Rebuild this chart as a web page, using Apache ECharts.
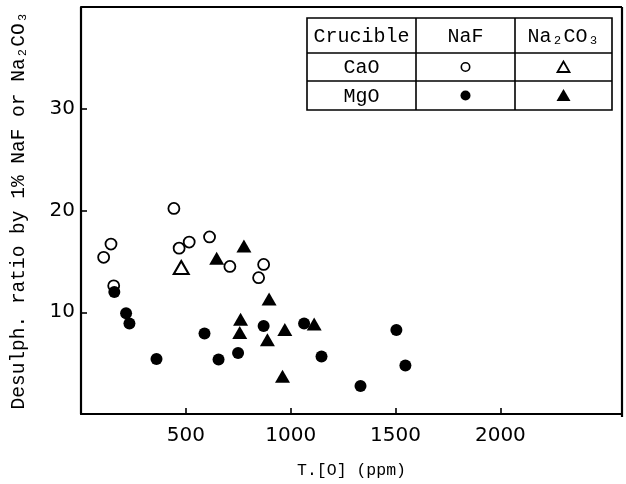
<!DOCTYPE html>
<html>
<head>
<meta charset="utf-8">
<script src="https://cdn.jsdelivr.net/npm/echarts@6/dist/echarts.min.js"></script>
<style>
html,body{margin:0;padding:0;background:#fff;}
#chart{width:626px;height:484px;}
</style>
</head>
<body>
<div id="chart"></div>
<script>
// CaO crucible, NaF (open circles)
var caoNaF = [[108,15.4],[143,16.7],[156,12.6],[443,20.2],[468,16.3],[516,16.9],[613,17.4],[710,14.5],[847,13.4],[871,14.7]];
// CaO crucible, Na2CO3 (open triangles)
var caoNa2CO3 = [[478,14.4]];
// MgO crucible, NaF (filled circles)
var mgoNaF = [[159,12.0],[215,9.9],[231,8.9],[360,5.4],[589,7.9],[656,5.35],[749,6.0],[871,8.65],[1064,8.9],[1147,5.65],[1333,2.75],[1504,8.26],[1547,4.76]];
// MgO crucible, Na2CO3 (filled triangles)
var mgoNa2CO3 = [[647,15.3],[777,16.5],[757,8.0],[761,9.3],[889,7.3],[897,11.3],[961,3.7],[972,8.3],[1112,8.85]];

var xTicks = [500,1000,1500,2000];
var yTicks = [10,20,30];
var xName = 'T.[O] (ppm)';
var yName = 'Desulph. ratio by 1% NaF or Na₂CO₃';
var tableHeader = ['Crucible','NaF','Na₂CO₃'];
var tableRows = ['CaO','MgO'];

var mono = '"Liberation Mono", "DejaVu Sans Mono", monospace';
var chart = echarts.init(document.getElementById('chart'), null, {renderer:'canvas'});

// table geometry (pixels)
var tL = 307, tR = 612, tT = 18, tB = 110;
var c1 = 416, c2 = 515;
var r1 = 53, r2 = 81;
var lineStyle = {stroke:'#000', lineWidth:1.6};
var tFont = '20px ' + mono;
function cellText(txt, x, y) {
  return {type:'text', x:x, y:y, style:{text:txt, font:tFont, fill:'#000', align:'center', verticalAlign:'middle'}, z:12};
}
var graphics = [
  {type:'rect', shape:{x:tL,y:tT,width:tR-tL,height:tB-tT}, style:{fill:'#fff',stroke:'#000',lineWidth:1.6}, z:10},
  {type:'line', shape:{x1:c1,y1:tT,x2:c1,y2:tB}, style:lineStyle, z:11},
  {type:'line', shape:{x1:c2,y1:tT,x2:c2,y2:tB}, style:lineStyle, z:11},
  {type:'line', shape:{x1:tL,y1:r1,x2:tR,y2:r1}, style:lineStyle, z:11},
  {type:'line', shape:{x1:tL,y1:r2,x2:tR,y2:r2}, style:lineStyle, z:11},
  cellText(tableHeader[0], (tL+c1)/2, (tT+r1)/2+1),
  cellText(tableHeader[1], (c1+c2)/2, (tT+r1)/2+1),
  cellText(tableHeader[2], (c2+tR)/2, (tT+r1)/2+1),
  cellText(tableRows[0], (tL+c1)/2, (r1+r2)/2+1),
  cellText(tableRows[1], (tL+c1)/2, (r2+tB)/2+1),
  {type:'circle', shape:{cx:(c1+c2)/2, cy:(r1+r2)/2, r:4.2}, style:{fill:'#fff',stroke:'#000',lineWidth:1.6}, z:12},
  {type:'polygon', shape:{points:[[(c2+tR)/2,(r1+r2)/2-5.5],[(c2+tR)/2-6,(r1+r2)/2+5],[(c2+tR)/2+6,(r1+r2)/2+5]]}, style:{fill:'#fff',stroke:'#000',lineWidth:1.8}, z:12},
  {type:'circle', shape:{cx:(c1+c2)/2, cy:(r2+tB)/2, r:5}, style:{fill:'#000'}, z:12},
  {type:'polygon', shape:{points:[[(c2+tR)/2,(r2+tB)/2-6.5],[(c2+tR)/2-7,(r2+tB)/2+5.5],[(c2+tR)/2+7,(r2+tB)/2+5.5]]}, style:{fill:'#000'}, z:12}
];

var option = {
  backgroundColor:'#fff',
  animation:false,
  grid:{left:81, right:4, top:7, bottom:67, containLabel:false},
  xAxis:{
    type:'value', min:0, max:2580, interval:500,
    name:xName, nameLocation:'middle', nameGap:48,
    nameTextStyle:{fontFamily:mono, fontSize:16.5, color:'#000'},
    axisLine:{show:true, onZero:false, lineStyle:{color:'#000', width:2.2}},
    axisTick:{show:true, inside:true, length:6, customValues:xTicks, lineStyle:{color:'#000', width:1.6}},
    axisLabel:{show:true, customValues:xTicks, margin:12, color:'#000', fontFamily:'"DejaVu Sans", sans-serif', fontSize:20,
      formatter:function(v){return String(v);}},
    splitLine:{show:false}
  },
  yAxis:{
    type:'value', min:0, max:40, interval:10,
    name:yName, nameLocation:'middle', nameGap:52, nameRotate:90,
    nameTextStyle:{fontFamily:mono, fontSize:19.5, color:'#000'},
    axisLine:{show:true, onZero:false, lineStyle:{color:'#000', width:2.2}},
    axisTick:{show:true, inside:true, length:6, customValues:yTicks, lineStyle:{color:'#000', width:1.6}},
    axisLabel:{show:true, customValues:yTicks, margin:6, color:'#000', fontFamily:'"DejaVu Sans", sans-serif', fontSize:20,
      formatter:function(v){return String(v);}},
    splitLine:{show:false}
  },
  graphic:[
    {type:'line', shape:{x1:81,y1:7,x2:622,y2:7}, style:{stroke:'#000',lineWidth:2.2}, z:5},
    {type:'line', shape:{x1:622,y1:7,x2:622,y2:417}, style:{stroke:'#000',lineWidth:2.2}, z:5}
  ].concat(graphics),
  series:[
    {name:'CaO NaF', type:'scatter', data:caoNaF, symbol:'circle', symbolSize:11,
     itemStyle:{color:'#fff', borderColor:'#000', borderWidth:1.8, opacity:1}, z:2},
    {name:'CaO Na2CO3', type:'scatter', data:caoNa2CO3, symbol:'triangle', symbolSize:[15,13],
     itemStyle:{color:'#fff', borderColor:'#000', borderWidth:2, opacity:1}, z:2},
    {name:'MgO NaF', type:'scatter', data:mgoNaF, symbol:'circle', symbolSize:12,
     itemStyle:{color:'#000', opacity:1}, z:3},
    {name:'MgO Na2CO3', type:'scatter', data:mgoNa2CO3, symbol:'triangle', symbolSize:[15,13],
     itemStyle:{color:'#000', opacity:1}, z:3}
  ]
};
chart.setOption(option);
</script>
</body>
</html>
